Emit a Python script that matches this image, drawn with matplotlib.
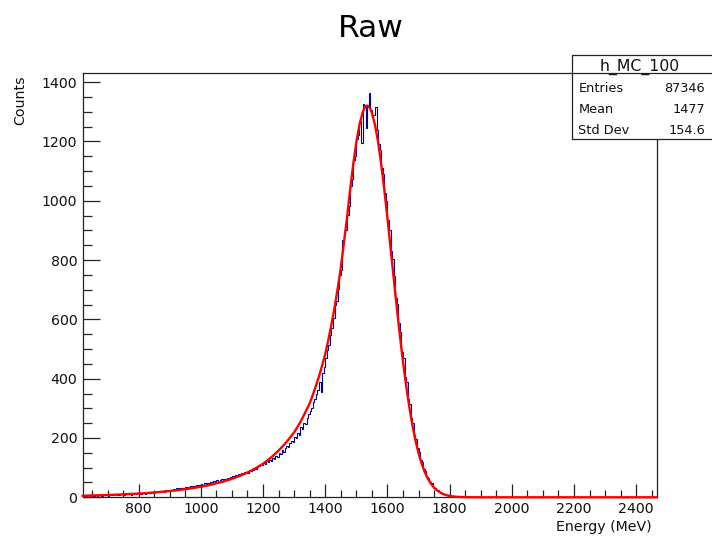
import matplotlib
matplotlib.use("Agg")
import matplotlib.pyplot as plt
import numpy as np
from matplotlib.ticker import MultipleLocator
from matplotlib.patches import Rectangle
from matplotlib.lines import Line2D

plt.rcParams['font.family'] = ['DejaVu Sans']

# ---------------- data ----------------
title = "Raw"
x_label = "Energy (MeV)"
y_label = "Counts"
hist_name = "h_MC_100"
stat_labels = ["Entries", "Mean", "Std Dev"]
stat_values = ["87346", "1477", "154.6"]

bin_low = 620.0
bin_width = 5.0
hist_counts = [
    5,
    6, 4, 7, 5, 8, 6, 5, 9, 6, 7, 8, 5, 9, 7, 8,
    6, 10, 8, 9, 7, 11, 9, 8, 12, 10, 9, 13, 11, 10, 14, 9, 12, 13, 11, 14,
    13, 11, 15, 14, 12, 16, 15, 13, 18, 16, 19, 17, 21, 18, 20, 22, 19, 24, 21, 23,
    26, 24, 28, 27, 30, 26, 31, 29, 33, 30, 35, 32, 34, 38, 33, 39, 36, 41, 38, 43,
    44, 41, 47, 45, 49, 46, 52, 48, 54, 51, 57, 53, 58, 61, 56, 63, 60, 66, 62, 70,
    71, 68, 74, 72, 78, 75, 81, 79, 84, 86, 83, 90, 88, 93, 97, 94, 101, 104, 108, 110,
    116, 112, 121, 119, 127, 124, 133, 130, 140, 137, 149, 146, 158, 154, 166, 172, 168, 183, 190, 186,
    204, 199, 218, 211, 236, 229, 252, 247, 268, 281,
    292, 301, 320, 331, 347, 362, 389, 356, 418, 440,
    471, 498, 512, 549, 571, 606, 648, 661, 702, 751, 768, 868, 895,
    903, 952, 981, 1049, 1072, 1138, 1152, 1210, 1221, 1268,
    1195, 1325, 1322, 1245, 1318, 1362, 1305, 1285, 1290, 1318, 1240,
    1190, 1171, 1109, 1092, 1026, 1001, 934, 901, 832, 803,
    748, 672, 652, 587, 556, 489, 470, 405, 389, 332,
    315, 268, 251, 211, 197, 166, 152, 127, 118, 94,
    88, 70, 65, 50, 47, 36, 33, 25, 24, 17,
    16, 11, 12, 7, 8, 5, 5, 3, 4, 2,
    2, 1, 1, 0, 1, 0,
]

fit_energy = [620, 625, 650, 675, 700, 725, 750, 775, 800, 825, 850, 875, 900, 925, 950,
              975, 1000, 1025, 1050, 1075, 1100, 1125, 1150, 1175, 1200, 1225, 1250,
              1275, 1300, 1310, 1320, 1330, 1340, 1350, 1360, 1370, 1380, 1390, 1400,
              1410, 1420, 1430, 1440, 1450, 1460, 1470, 1480, 1490, 1500, 1510, 1520,
              1525, 1530, 1535, 1540, 1545, 1550, 1560, 1570, 1580, 1590, 1600, 1610,
              1620, 1630, 1640, 1650, 1660, 1670, 1680, 1690, 1700, 1710, 1720, 1730,
              1740, 1750, 1760, 1770, 1780, 1790, 1800, 1810, 1820, 1830, 1840, 1860,
              1900, 2465]
fit_counts = [5.3, 5.4, 6.2, 6.9, 7.8, 8.8, 9.9, 11.2, 12.6, 14.4, 16.3, 18.6, 21.2, 24.1, 27.4,
              31.2, 35.5, 40.8, 47.0, 54.0, 62.2, 72.2, 83.8, 97.4, 113.2, 133.5, 157.5,
              185.8, 219.2, 236, 254, 274, 295, 317, 345, 376, 408, 444, 483,
              531, 583, 640, 704, 773, 858, 942, 1037, 1123, 1198, 1256, 1297,
              1310, 1318, 1321, 1318, 1310, 1297, 1256, 1198, 1123, 1037, 942, 842,
              741, 641, 546, 458, 378, 307, 245, 193, 149, 114, 85, 63,
              46, 32.5, 23, 16, 11, 7, 5, 3, 2, 1.2, 0.8, 0.3,
              0, 0]

x_range = (620, 2466)
y_range = (0, 1430)

# ---------------- figure ----------------
W, H = 712, 536
fig = plt.figure(figsize=(W / 100, H / 100), dpi=100)
ax = fig.add_axes([82.7 / W, 1 - 497.3 / H, (656.7 - 82.7) / W, (497.3 - 73.3) / H])

counts = np.asarray(hist_counts, dtype=float)
edges = bin_low + bin_width * np.arange(len(counts) + 1)
ax.stairs(counts, edges, color="#000099", lw=0.8, zorder=2)
ax.plot(fit_energy, fit_counts, color="#ff0000", lw=1.7, zorder=3, clip_on=False,
        solid_joinstyle="round")

ax.set_xlim(*x_range)
ax.set_ylim(*y_range)

ax.xaxis.set_major_locator(MultipleLocator(200))
ax.xaxis.set_minor_locator(MultipleLocator(50))
ax.yaxis.set_major_locator(MultipleLocator(200))
ax.yaxis.set_minor_locator(MultipleLocator(50))

ax.tick_params(which="both", direction="in", top=False, right=False,
               color="#222222", width=0.9, labelsize=10.2, labelcolor="#111111")
ax.xaxis.set_tick_params(which="major", length=9.4, pad=3.2)
ax.xaxis.set_tick_params(which="minor", length=5.0)
ax.yaxis.set_tick_params(which="major", length=12.2, pad=3.9)
ax.yaxis.set_tick_params(which="minor", length=6.5)

for s in ax.spines.values():
    s.set_color("#222222")
    s.set_linewidth(0.9)

# axis titles (ROOT style)
fig.text(20 / W, 1 - 75 / H, y_label, rotation=90, ha="center", va="top",
         fontsize=10.2, color="#111111")
fig.text(651.7 / W, 1 - 530.5 / H, x_label, ha="right", va="baseline",
         fontsize=10.2, color="#111111")

# slide title
fig.text(370.8 / W, 1 - 36.7 / H, title, ha="center", va="baseline",
         fontsize=22.5, color="black")

# stats box
bx0, bx1 = 571.7 / W, 714 / W
by_top, by_bot = 1 - 55 / H, 1 - 139.3 / H
box = Rectangle((bx0, by_bot), bx1 - bx0, by_top - by_bot, transform=fig.transFigure,
                facecolor="white", edgecolor="#222222", lw=0.9, zorder=10)
fig.add_artist(box)
sep = Line2D([bx0, bx1], [1 - 73.3 / H, 1 - 73.3 / H], transform=fig.transFigure,
             color="#222222", lw=0.9, zorder=11)
fig.add_artist(sep)
fig.text(640 / W, 1 - 71.0 / H, hist_name, ha="center", va="baseline",
         fontsize=11.3, color="#111111", zorder=12)
row_baselines = [91.7, 113.0, 134.0]
for lab, val, yb in zip(stat_labels, stat_values, row_baselines):
    fig.text(578.3 / W, 1 - yb / H, lab, ha="left", va="baseline",
             fontsize=9.3, color="#111111", zorder=12)
    fig.text(705 / W, 1 - yb / H, val, ha="right", va="baseline",
             fontsize=9.3, color="#111111", zorder=12)

fig.savefig("out.png", dpi=100)
